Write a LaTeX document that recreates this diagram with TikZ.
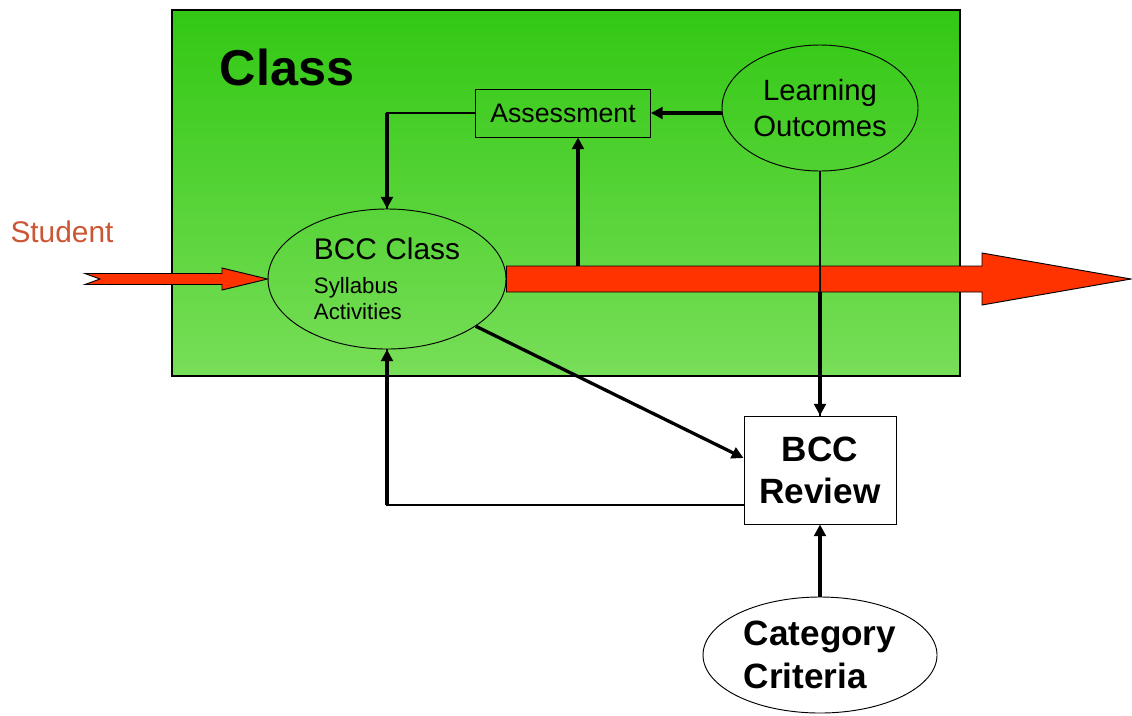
\documentclass[tikz,border=0pt]{standalone}
\usepackage{fontspec}
\setmainfont{Liberation Sans}
\usetikzlibrary{arrows.meta,calc,shapes.geometric}
\definecolor{classtop}{RGB}{50,200,20}
\definecolor{classbot}{RGB}{120,222,88}
\definecolor{flowred}{RGB}{255,51,0}
\definecolor{studtext}{RGB}{204,85,51}

\begin{document}
\begin{tikzpicture}[
    x=0.03cm, y=-0.03cm,
    oval/.style={draw, ellipse, line width=0.8pt, inner sep=0pt, align=center},
    box/.style={draw, line width=0.8pt, inner sep=0pt, align=center},
    arr/.style={-{Triangle[length=10pt,width=10pt]}, line width=2.8pt},
    thinline/.style={line width=1.3pt},
    flow/.style={fill=flowred, draw=black, line width=0.8pt, line join=miter}
]
\useasboundingbox (0,0) rectangle (1132,715);
% Class area
\draw[top color=classtop, bottom color=classbot, line width=1pt] (172,10) rectangle (960,376);
\node[font=\bfseries\fontsize{43}{46}\selectfont] (classlbl) at (287,67) {Class};
% Nodes
\node[box, minimum width=5.25cm, minimum height=1.44cm, font=\fontsize{22.8}{26}\selectfont] (assess) at (563,113) {Assessment};
\node[oval, minimum width=5.88cm, minimum height=3.78cm, font=\fontsize{25}{30}\selectfont] (lo) at (820,108) {Learning\\Outcomes};
\node[oval, minimum width=7.14cm, minimum height=4.2cm, align=left, font=\fontsize{19}{22}\selectfont] (bcc) at (387,279)
    {{\fontsize{25.5}{27}\selectfont BCC Class}\\[7pt]Syllabus\\Activities};
\node[box, minimum width=4.56cm, minimum height=3.24cm, font=\bfseries\fontsize{30}{36}\selectfont] (review) at (820,470) {BCC\\Review};
\node[oval, minimum width=7.02cm, minimum height=3.48cm, align=left, font=\bfseries\fontsize{30}{37}\selectfont] (cat) at (820,655) {Category\\Criteria};
\node[text=studtext, font=\fontsize{25.5}{28}\selectfont] (student) at (62,232) {Student};

% Student flow into the class
\draw[flow] (85,273.5) -- (222,273.5) -- (222,268) -- (bcc.west) -- (222,290) -- (222,284.5) -- (85,284.5) -- (100,279) -- cycle;
% Flow out of the class
\coordinate (flowend) at (1131,279);
\draw[flow] ($(bcc.east)+(0,-13)$) -- (982,266) -- (982,253) -- (flowend) -- (982,305) -- (982,292) -- ($(bcc.east)+(0,13)$) -- cycle;

% Connectors
\draw[thinline] (assess.west) -| (bcc.north);
\draw[arr] (assess.west -| bcc.north) -- (bcc.north);
\draw[arr] (lo.west |- assess.east) -- (assess.east);
\coordinate (tap) at (578,266);
\draw[arr] (tap) -- (tap |- assess.south);
\coordinate (flowbot) at (820,292);
\draw[thinline] (lo.south) -- (review.north);
\draw[arr] (flowbot) -- (review.north);
\draw[arr] (bcc.-28) -- ($(review.west)+(0,-12)$);
\coordinate (back) at ($(review.west)+(0,35)$);
\draw[thinline] (back) -| (bcc.south);
\draw[arr] (back -| bcc.south) -- (bcc.south);
\draw[arr] (cat.north) -- (review.south);
\end{tikzpicture}
\end{document}
